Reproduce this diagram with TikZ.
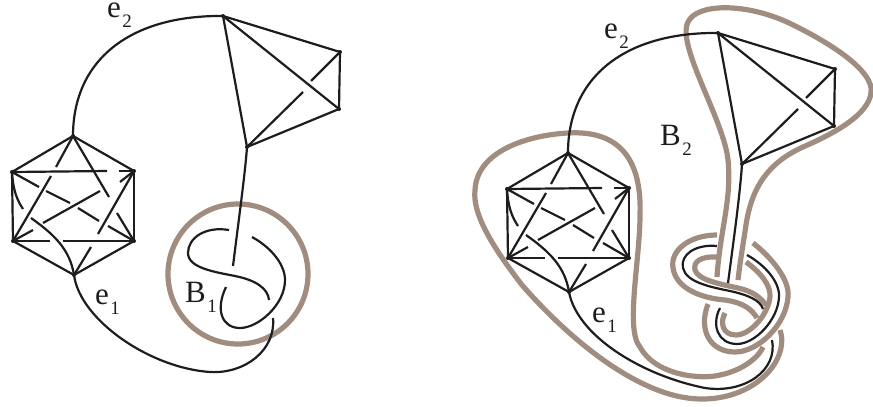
\documentclass[tikz,border=0pt]{standalone}
\usepackage{fontspec}
\setmainfont{Liberation Serif}
\definecolor{ballbrown}{RGB}{160,141,128}
\definecolor{strandblack}{RGB}{30,28,28}
\newcommand{\sublab}[2]{#1\kern1.5pt\raisebox{-10pt}{\fontsize{19}{19}\selectfont #2}}
\tikzset{
  strand/.style={draw=strandblack, line width=2.2pt},
  ballline/.style={draw=ballbrown, line width=5.2pt},
  lab/.style={font=\fontsize{31}{32}\selectfont, text=strandblack, inner sep=0pt, anchor=base west},
}
\begin{document}
\begin{tikzpicture}[x=1pt, y=-1pt]
  \useasboundingbox (0,0) rectangle (873,407);
  % Brown ball, left
  \draw[ballline] (238,274) circle (70);
  % Brown band, right: around the tetrahedron
  \draw[ballline] (717,277) .. controls (720,230) and (732,200) .. (728,160)
    .. controls (724,120) and (676,45) .. (688,22)
    .. controls (697,3) and (745,3) .. (787,22)
    .. controls (825,40) and (875,70) .. (871,93)
    .. controls (868,115) and (835,133) .. (803,147)
    .. controls (770,162) and (752,185) .. (746,225)
    .. controls (743,245) and (740,262) .. (738,280);
  % Brown band, right: around the hexagon
  \draw[ballline] (780,330) .. controls (790,360) and (755,400) .. (700,399)
    .. controls (640,398) and (570,340) .. (522,285)
    .. controls (495,250) and (472,215) .. (475,190)
    .. controls (477,150) and (530,135) .. (568,133)
    .. controls (620,130) and (642,160) .. (640,215)
    .. controls (640,260) and (625,330) .. (640,347)
    .. controls (655,375) and (700,380) .. (720,375)
    .. controls (745,370) and (760,355) .. (763,347);
  % Brown band, right: knot
  \draw[ballline] (717,235) .. controls (690,235) and (670,250) .. (673,268)
    .. controls (676,288) and (700,298) .. (725,300)
    .. controls (745,303) and (752,310) .. (757,318);
  \draw[ballline] (718,257) .. controls (700,256) and (693,262) .. (695,270)
    .. controls (698,280) and (720,284) .. (738,288)
    .. controls (752,291) and (760,297) .. (766,305);
  \draw[ballline] (753,243) .. controls (772,258) and (790,280) .. (788,297)
    .. controls (786,325) and (758,352) .. (735,352)
    .. controls (710,352) and (698,330) .. (708,304);
  \draw[ballline] (746,262) .. controls (760,272) and (771,285) .. (770,297)
    .. controls (768,315) and (750,335) .. (736,335)
    .. controls (722,335) and (720,322) .. (725,313);
  % Hexagon and tetrahedron, both sides
  \foreach \dx/\dy in {0/0, 495/17} {
    \begin{scope}[shift={(\dx,\dy)}]
      \foreach \xa/\ya/\xb/\yb in {73/136/12/172, 73/136/134/171, 12/172/13/241, 134/171/134/241,
          13/241/74/275, 134/241/74/275, 12/172/107/171, 119/171/134/171, 13/241/50/241, 63/241/134/241,
          73/136/56/167, 51/176/13/241, 73/136/109/197, 117/213/134/241,
          134/171/120/182, 100/191/43/223, 33/230/13/241,
          12/172/39/187, 46/191/70/203, 78/208/99/221, 108/226/134/241,
          134/171/98/234, 91/247/74/275,
          223/16/340/52, 223/16/339/109, 223/16/247/147, 340/52/339/109, 339/109/247/147,
          247/147/303/92, 311/81/340/52} {
        \draw[strand] (\xa,\ya) -- (\xb,\yb);
      }
      \draw[strand] (12,172) .. controls (13,190) and (17,200) .. (23,209);
      \draw[strand] (31,218) .. controls (55,235) and (70,250) .. (74,275);
      \draw[strand] (73,136) .. controls (73,60) and (130,15) .. (223,16);
      \foreach \vx/\vy in {73/136, 12/172, 134/171, 13/241, 134/241, 74/275, 223/16, 340/52, 339/109, 247/147} {
        \fill[strandblack] (\vx,\vy) circle (2);
      }
    \end{scope}
  }
  % Knot and e1, left
  \draw[strand] (247,147) .. controls (245,175) and (238,225) .. (233,266);
  \draw[strand] (229,230) .. controls (205,226) and (188,238) .. (188,253)
    .. controls (188,268) and (215,272) .. (235,276)
    .. controls (255,280) and (268,288) .. (269,300);
  \draw[strand] (252,237) .. controls (272,248) and (285,265) .. (285,280)
    .. controls (285,305) and (258,328) .. (240,328)
    .. controls (222,328) and (215,310) .. (226,287);
  \draw[strand] (74,275) .. controls (80,320) and (150,368) .. (210,372)
    .. controls (245,374) and (276,350) .. (273,318);
  % Knot and e1, right
  \draw[strand] (742,164) .. controls (740,195) and (733,245) .. (728,283);
  \draw[strand] (717,246) .. controls (695,244) and (680,255) .. (683,268)
    .. controls (686,282) and (710,287) .. (730,291)
    .. controls (748,295) and (760,300) .. (763,309);
  \draw[strand] (747,255) .. controls (765,265) and (780,282) .. (779,297)
    .. controls (778,320) and (755,344) .. (737,344)
    .. controls (718,344) and (711,325) .. (720,308);
  \draw[strand] (569,292) .. controls (577,335) and (640,375) .. (705,388)
    .. controls (745,394) and (778,370) .. (772,340);
  % Labels
  \node[lab] (e2l) at (107,17) {\sublab{e}{2}};
  \node[lab] (e1l) at (95,304) {\sublab{e}{1}};
  \node[lab] (b1) at (185,302) {\sublab{B}{1}};
  \node[lab] (e2r) at (604,38) {\sublab{e}{2}};
  \node[lab] (e1r) at (592,322) {\sublab{e}{1}};
  \node[lab] (b2) at (660,145) {\sublab{B}{2}};
\end{tikzpicture}
\end{document}
